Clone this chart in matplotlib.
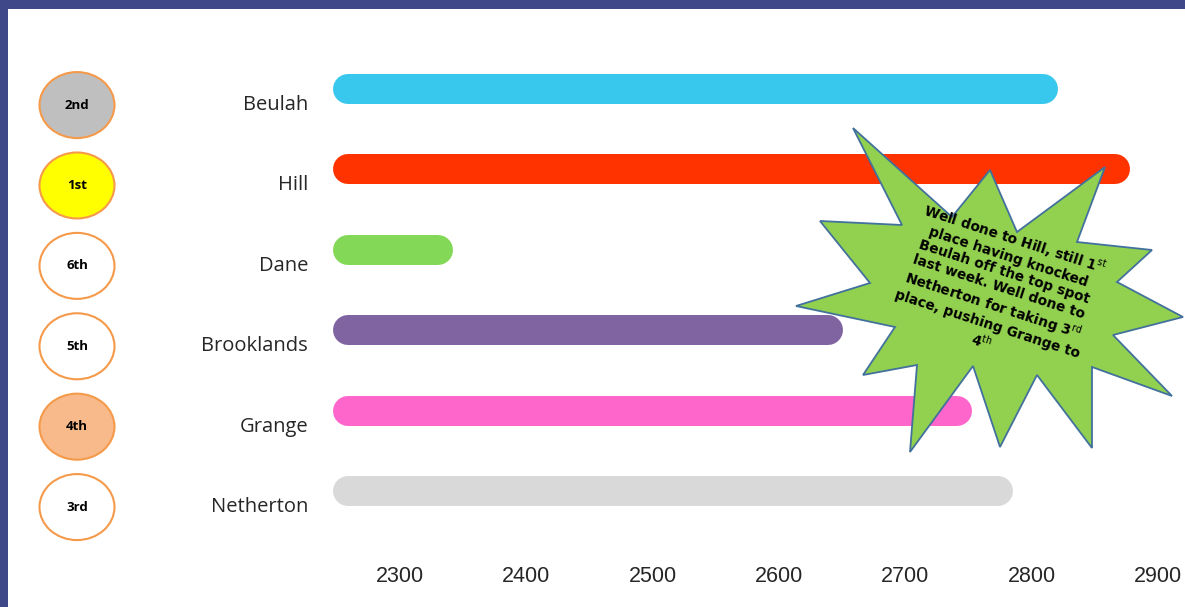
import matplotlib.pyplot as plt
import matplotlib.transforms as mtransforms
from matplotlib.patches import Ellipse, Polygon, Rectangle

teams = ['Beulah', 'Hill', 'Dane', 'Brooklands', 'Grange', 'Netherton']
points = [2821, 2878, 2342, 2651, 2753, 2785]
base = 2247
ranks = ['2nd', '1st', '6th', '5th', '4th', '3rd']
bar_colors = ['#38C8EE', '#FF3300', '#84D858', '#8064A2', '#FF66CC', '#D9D9D9']
badge_colors = ['#BFBFBF', '#FFFF00', '#FFFFFF', '#FFFFFF', '#F8B98B', '#FFFFFF']
ticks = [2300, 2400, 2500, 2600, 2700, 2800, 2900]
note = ('Well done to Hill, still 1$^{\\rm st}$\nplace having knocked\n'
        'Beulah off the top spot\nlast week. Well done to\n'
        'Netherton for taking 3$^{\\rm rd}$\nplace, pushing Grange to\n4$^{\\rm th}$')

# starburst outline, pixel coords of the picture
burst_x = [853, 952, 990, 1017, 1105, 1077, 1152, 1117, 1183, 1113, 1172, 1092,
           1092, 1037, 1000, 973, 910, 917, 863, 895, 796, 870, 820, 902]
burst_y = [128, 217, 170, 232, 167, 242, 250, 282, 317, 335, 396, 367,
           448, 375, 447, 366, 452, 365, 375, 327, 306, 283, 221, 225]

W, H = 1185, 607
fig = plt.figure(figsize=(W / 100, H / 100), dpi=100)
fig.patch.set_facecolor('white')

xmin, xmax = 2236.5, 2921.4
ax = fig.add_axes([320 / W, (H - 531.2) / H, 865 / W, 482.4 / H])
ax.set_xlim(xmin, xmax)
ax.set_ylim(5.5, -0.5)
ax.axis('off')

# rounded bars: thick lines with round caps, trimmed so the cap ends at the value
lw_px = 30
px_per_unit = 865 / (xmax - xmin)
half = lw_px / 2 / px_per_unit
for i, (v, c) in enumerate(zip(points, bar_colors)):
    ax.plot([base + half, v - half], [i, i], color=c, lw=lw_px * 0.72,
            solid_capstyle='round', zorder=2)

# x tick labels below the bars
xtrans = mtransforms.blended_transform_factory(ax.transData, ax.transAxes)
for t in ticks:
    ax.text(t, -0.093, str(t), transform=xtrans, ha='center', va='center',
            fontsize=15.5, family='Liberation Sans', color='#262626', clip_on=False)

trans = mtransforms.blended_transform_factory(ax.transAxes, ax.transData)
off = 0.2
for i, (name, rk, bc) in enumerate(zip(teams, ranks, badge_colors)):
    ax.text(-12 / 865, i + off, name, transform=trans, ha='right', va='center',
            fontsize=14.5, family='Open Sans', color='#262626', clip_on=False)
    e = Ellipse((-243 / 865, i + off), 75 / 865, 66 / 80.4, transform=trans,
                facecolor=bc, edgecolor='#F59A4A', lw=1.5, clip_on=False)
    ax.add_patch(e)
    ax.text(-243 / 865, i + off, rk, transform=trans, ha='center', va='center',
            fontsize=9.5, fontweight='bold', family='Open Sans', color='black',
            clip_on=False)

# starburst callout
verts = [(x / W, 1 - y / H) for x, y in zip(burst_x, burst_y)]
star = Polygon(verts, closed=True, facecolor='#92D050', edgecolor='#41719C', lw=1.3,
               transform=fig.transFigure, clip_on=False, zorder=5)
ax.add_patch(star)
ax.text(998 / W, 1 - 290 / H, note, transform=fig.transFigure, rotation=-18,
        rotation_mode='anchor', ha='center', va='center', multialignment='center',
        fontsize=9.8, fontweight='bold', family='DejaVu Sans', color='black',
        linespacing=1.15, zorder=6)

# dark frame
border = '#3F4888'
fig.patches.append(Rectangle((0, 1 - 8.5 / H), 1, 8.5 / H, transform=fig.transFigure,
                             facecolor=border, edgecolor='none'))
fig.patches.append(Rectangle((0, 0), 8 / W, 1, transform=fig.transFigure,
                             facecolor=border, edgecolor='none'))

fig.savefig('out.png', dpi=100)
